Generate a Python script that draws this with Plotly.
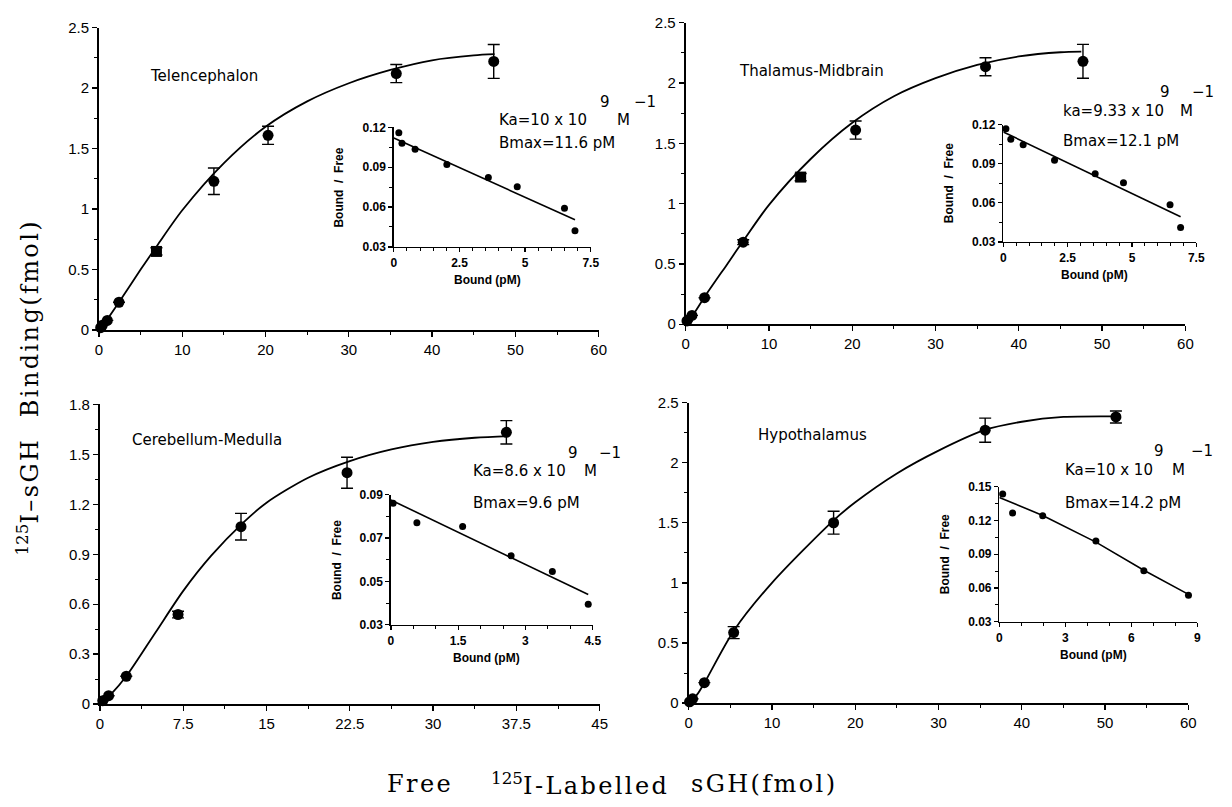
import plotly.graph_objects as go

W, H = 1232, 807

# ---------------- data ----------------
# Panel 1: Telencephalon
tel_x = [0.2, 0.4, 1.0, 2.4, 6.9, 13.8, 20.3, 35.7, 47.4]
tel_y = [0.02, 0.04, 0.08, 0.23, 0.65, 1.23, 1.61, 2.12, 2.22]
tel_err = [0, 0, 0, 0, 0.03, 0.11, 0.075, 0.075, 0.14]
tel_fit_x = [0, 1, 2.4, 5, 7, 10, 15, 20, 25, 30, 35, 40, 45, 47.5]
tel_fit_y = [0, 0.09, 0.23, 0.50, 0.70, 0.99, 1.38, 1.68, 1.89, 2.04, 2.15, 2.23, 2.27, 2.28]
tel_sc_x = [0.19, 0.31, 0.81, 2.02, 3.6, 4.7, 6.5, 6.9]
tel_sc_y = [0.116, 0.108, 0.1035, 0.092, 0.0823, 0.0754, 0.0592, 0.0421]
tel_line_x = [0, 6.9]
tel_line_y = [0.112, 0.0504]

# Panel 2: Thalamus-Midbrain
tha_x = [0.15, 0.75, 2.26, 6.9, 13.8, 20.4, 36.0, 47.7]
tha_y = [0.027, 0.073, 0.22, 0.68, 1.22, 1.61, 2.135, 2.18]
tha_err = [0, 0, 0, 0.02, 0.03, 0.075, 0.075, 0.14]
tha_fit_x = [0, 1, 2.3, 5, 7, 10, 15, 20, 25, 30, 35, 40, 45, 47.5]
tha_fit_y = [0, 0.09, 0.23, 0.50, 0.70, 0.99, 1.37, 1.67, 1.89, 2.04, 2.15, 2.22, 2.255, 2.26]
tha_sc_x = [0.1, 0.29, 0.77, 1.99, 3.57, 4.67, 6.48, 6.89]
tha_sc_y = [0.1168, 0.1088, 0.1044, 0.0927, 0.0823, 0.0754, 0.0585, 0.0411]
tha_line_x = [0, 6.89]
tha_line_y = [0.1143, 0.0493]

# Panel 3: Cerebellum-Medulla
cer_x = [0.25, 0.78, 2.37, 7.03, 12.7, 22.25, 36.6]
cer_y = [0.02, 0.05, 0.167, 0.538, 1.066, 1.39, 1.633]
cer_err = [0, 0, 0, 0.02, 0.08, 0.093, 0.07]
cer_fit_x = [0, 1, 2.4, 5, 7.5, 10, 12.9, 15, 18.75, 22.5, 26.25, 30, 33.75, 36.8]
cer_fit_y = [0, 0.06, 0.17, 0.43, 0.68, 0.89, 1.09, 1.21, 1.36, 1.46, 1.53, 1.575, 1.60, 1.61]
cer_sc_x = [0.05, 0.58, 1.6, 2.68, 3.6, 4.4]
cer_sc_y = [0.086, 0.077, 0.0753, 0.0618, 0.0545, 0.0394]
cer_line_x = [0, 4.4]
cer_line_y = [0.0875, 0.0439]

# Panel 4: Hypothalamus
hyp_x = [0.1, 0.47, 1.88, 5.4, 17.4, 35.6, 51.3]
hyp_y = [0.01, 0.035, 0.17, 0.586, 1.50, 2.27, 2.38]
hyp_err = [0, 0, 0, 0.05, 0.095, 0.1, 0.05]
hyp_fit_x = [0, 1, 1.9, 5.4, 10, 17.4, 20, 25, 30, 35.5, 40, 45, 51.3]
hyp_fit_y = [0, 0.07, 0.17, 0.60, 1.00, 1.52, 1.67, 1.91, 2.10, 2.27, 2.34, 2.38, 2.385]
hyp_sc_x = [0.15, 0.6, 1.97, 4.39, 6.57, 8.6]
hyp_sc_y = [0.1436, 0.1266, 0.1243, 0.1018, 0.0754, 0.0535]
hyp_line_x = [0, 1.97, 4.39, 6.57, 8.6]
hyp_line_y = [0.1405, 0.1245, 0.1008, 0.0758, 0.0544]

region_names = ["Telencephalon", "Thalamus-Midbrain", "Cerebellum-Medulla", "Hypothalamus"]
ka_labels = ["Ka=10 x 10", "ka=9.33 x 10", "Ka=8.6 x 10", "Ka=10 x 10"]
bmax_labels = ["Bmax=11.6 pM", "Bmax=12.1 pM", "Bmax=9.6 pM", "Bmax=14.2 pM"]

# ---------------- layout helpers ----------------
def fx(p):
    return p / W

def fy(p):
    return 1 - p / H

SANS = "DejaVu Sans"
TICKF = "Liberation Sans, Arial"
SERIF = "DejaVu Serif"
HS = "\u200a"  # hair space used as letter spacing in the serif titles


def spaced(s):
    return HS.join(list(s))


main_boxes = [(96, 601, 19, 328), (689, 1194, 14, 322), (97, 602, 404, 710), (692, 1197, 402, 709)]
inset_boxes = [(394, 593, 121, 243), (1010, 1205, 118, 238), (391, 595, 496, 629), (1006, 1206, 488, 626)]

main_xr = [(0, 60, 10, 5), (0, 60, 10, 5), (0, 45, 7.5, 3.75), (0, 60, 10, 5)]
main_yr = [(0, 2.5, 0.5, 0.25), (0, 2.5, 0.5, 0.25), (0, 1.8, 0.3, 0.15), (0, 2.5, 0.5, 0.25)]
ins_xr = [(0, 7.5, 2.5, 0.5), (0, 7.5, 2.5, 0.5), (0, 4.5, 1.5, 0.5), (0, 9, 3, 1)]
ins_yr = [(0.03, 0.12, 0.03, 0.015), (0.03, 0.12, 0.03, 0.015), (0.03, 0.09, 0.02, 0.01), (0.03, 0.15, 0.03, 0.015)]

mains = [
    (tel_x, tel_y, tel_err, tel_fit_x, tel_fit_y),
    (tha_x, tha_y, tha_err, tha_fit_x, tha_fit_y),
    (cer_x, cer_y, cer_err, cer_fit_x, cer_fit_y),
    (hyp_x, hyp_y, hyp_err, hyp_fit_x, hyp_fit_y),
]
insets = [
    (tel_sc_x, tel_sc_y, tel_line_x, tel_line_y),
    (tha_sc_x, tha_sc_y, tha_line_x, tha_line_y),
    (cer_sc_x, cer_sc_y, cer_line_x, cer_line_y),
    (hyp_sc_x, hyp_sc_y, hyp_line_x, hyp_line_y),
]
square_idx = [4, 4, None, None]

fig = go.Figure()
layout = dict(
    width=W, height=H, margin=dict(l=0, r=0, t=0, b=0), autosize=False,
    paper_bgcolor="white", plot_bgcolor="rgba(0,0,0,0)",
    showlegend=False, font=dict(family=TICKF, color="black"),
)


def axis(domain, rng, dtick, minor, tick0, font_size, lw, bold=False, fmt=None):
    d = dict(
        domain=domain, range=list(rng), autorange=False, dtick=dtick, tick0=tick0,
        showline=True, linecolor="black", linewidth=lw, ticks="outside",
        ticklen=5 if lw > 1.6 else 4, tickwidth=1.3, tickcolor="black",
        minor=dict(ticks="outside", dtick=minor, tick0=tick0, ticklen=3, tickwidth=1, tickcolor="black"),
        showgrid=False, zeroline=False, fixedrange=True,
        tickfont=dict(family=TICKF, size=font_size, color="black", weight="bold" if bold else "normal"),
    )
    if fmt:
        d["tickformat"] = fmt
    return d


def ann(x, y, text, size, family=SANS, xanchor="center", yanchor="middle", angle=0, bold=False):
    return dict(x=fx(x), y=fy(y), xref="paper", yref="paper", xanchor=xanchor, yanchor=yanchor,
                text=text, textangle=angle, showarrow=False,
                font=dict(family=family, size=size, color="black", weight="bold" if bold else "normal"))


annotations = []
for i in range(4):
    mx, my, merr, fxs, fys = mains[i]
    sx, sy, lx, ly = insets[i]
    n_main = 2 * i + 1
    n_in = 2 * i + 2
    xa_main = "x" if n_main == 1 else f"x{n_main}"
    ya_main = "y" if n_main == 1 else f"y{n_main}"
    xa_in = f"x{n_in}"
    ya_in = f"y{n_in}"
    key_main = "" if n_main == 1 else str(n_main)

    x0, x1, y0, y1 = main_boxes[i]
    layout["xaxis" + key_main] = axis([fx(x0), fx(x1)], main_xr[i][:2], main_xr[i][2], main_xr[i][3], 0, 15, 2)
    layout["yaxis" + key_main] = axis([fy(y1), fy(y0)], main_yr[i][:2], main_yr[i][2], main_yr[i][3], 0, 15, 2)
    layout["xaxis" + key_main]["anchor"] = ya_main
    layout["yaxis" + key_main]["anchor"] = xa_main

    ix0, ix1, iy0, iy1 = inset_boxes[i]
    layout[f"xaxis{n_in}"] = axis([fx(ix0), fx(ix1)], ins_xr[i][:2], ins_xr[i][2], ins_xr[i][3], 0, 12, 1.5, bold=True)
    layout[f"yaxis{n_in}"] = axis([fy(iy1), fy(iy0)], ins_yr[i][:2], ins_yr[i][2], ins_yr[i][3],
                                  ins_yr[i][0], 12, 1.5, bold=True, fmt=".2f")
    layout[f"xaxis{n_in}"]["anchor"] = ya_in
    layout[f"yaxis{n_in}"]["anchor"] = xa_in

    # fitted curve
    fig.add_trace(go.Scatter(x=fxs, y=fys, mode="lines",
                             line=dict(color="black", width=1.8, shape="spline", smoothing=0.8),
                             xaxis=xa_main, yaxis=ya_main, cliponaxis=False, hoverinfo="skip"))
    symbols = ["circle"] * len(mx)
    if square_idx[i] is not None:
        symbols[square_idx[i]] = "square"
    fig.add_trace(go.Scatter(
        x=mx, y=my, mode="markers",
        marker=dict(color="black", size=11, symbol=symbols),
        error_y=dict(type="data", array=merr, visible=True, color="black", thickness=1.4, width=6),
        xaxis=xa_main, yaxis=ya_main, cliponaxis=False))

    # Scatchard inset
    fig.add_trace(go.Scatter(x=lx, y=ly, mode="lines", line=dict(color="black", width=1.6),
                             xaxis=xa_in, yaxis=ya_in, cliponaxis=False, hoverinfo="skip"))
    fig.add_trace(go.Scatter(x=sx, y=sy, mode="markers", marker=dict(color="black", size=7),
                             xaxis=xa_in, yaxis=ya_in, cliponaxis=False))

    # inset axis titles
    annotations.append(ann(ix0 - 55, (iy0 + iy1) / 2, "Bound  /  Free", 12, family=TICKF, angle=-90, bold=True))
    annotations.append(ann((ix0 + ix1) / 2 - 5, iy1 + 34, "Bound (pM)", 12, family=TICKF, bold=True))

# region names
name_pos = [(146, 68), (741, 63), (127, 440), (760, 435)]
# (left x of "Ka", y of Ka line, x of 9, x of M, x of -1, y of superscripts, y of Bmax)
ka_pos = [
    (498, 113, 607, 626, 648, 95, 137),
    (1068, 104, 1173, 1195, 1212, 85, 135),
    (472, 472, 575, 593, 612, 454, 505),
    (1070, 471, 1167, 1187, 1211, 452, 505),
]
for i in range(4):
    nx, ny = name_pos[i]
    annotations.append(ann(nx, ny, region_names[i], 15, xanchor="left"))
    kx, ky, nx9, mx_, m1x, sy_, by = ka_pos[i]
    annotations.append(ann(kx, ky, ka_labels[i], 15, xanchor="left"))
    annotations.append(ann(nx9, sy_, "9", 15))
    annotations.append(ann(mx_, ky, "M", 15))
    annotations.append(ann(m1x, sy_, "\u22121", 15))
    annotations.append(ann(kx, by, bmax_labels[i], 15, xanchor="left"))

# global axis titles
annotations.append(ann(24, 388, "<sup>125</sup>" + spaced("I\u2013sGH") + "   " + spaced("Binding") + HS + spaced("(fmol)"),
                       24, family=SERIF, angle=-90))
annotations.append(ann(385, 792, spaced("Free"), 24, family=SERIF, xanchor="left"))
annotations.append(ann(490, 792, "<sup>125</sup>" + spaced("I-Labelled"), 24, family=SERIF, xanchor="left"))
annotations.append(ann(692, 792, spaced("sGH(fmol)"), 24, family=SERIF, xanchor="left"))

layout["annotations"] = annotations
fig.update_layout(**layout)
fig.write_html(
    "out.html",
    config={"displayModeBar": False, "staticPlot": True},
    post_script="document.body.style.margin='0';document.body.style.padding='0';document.body.style.overflow='hidden';",
)
